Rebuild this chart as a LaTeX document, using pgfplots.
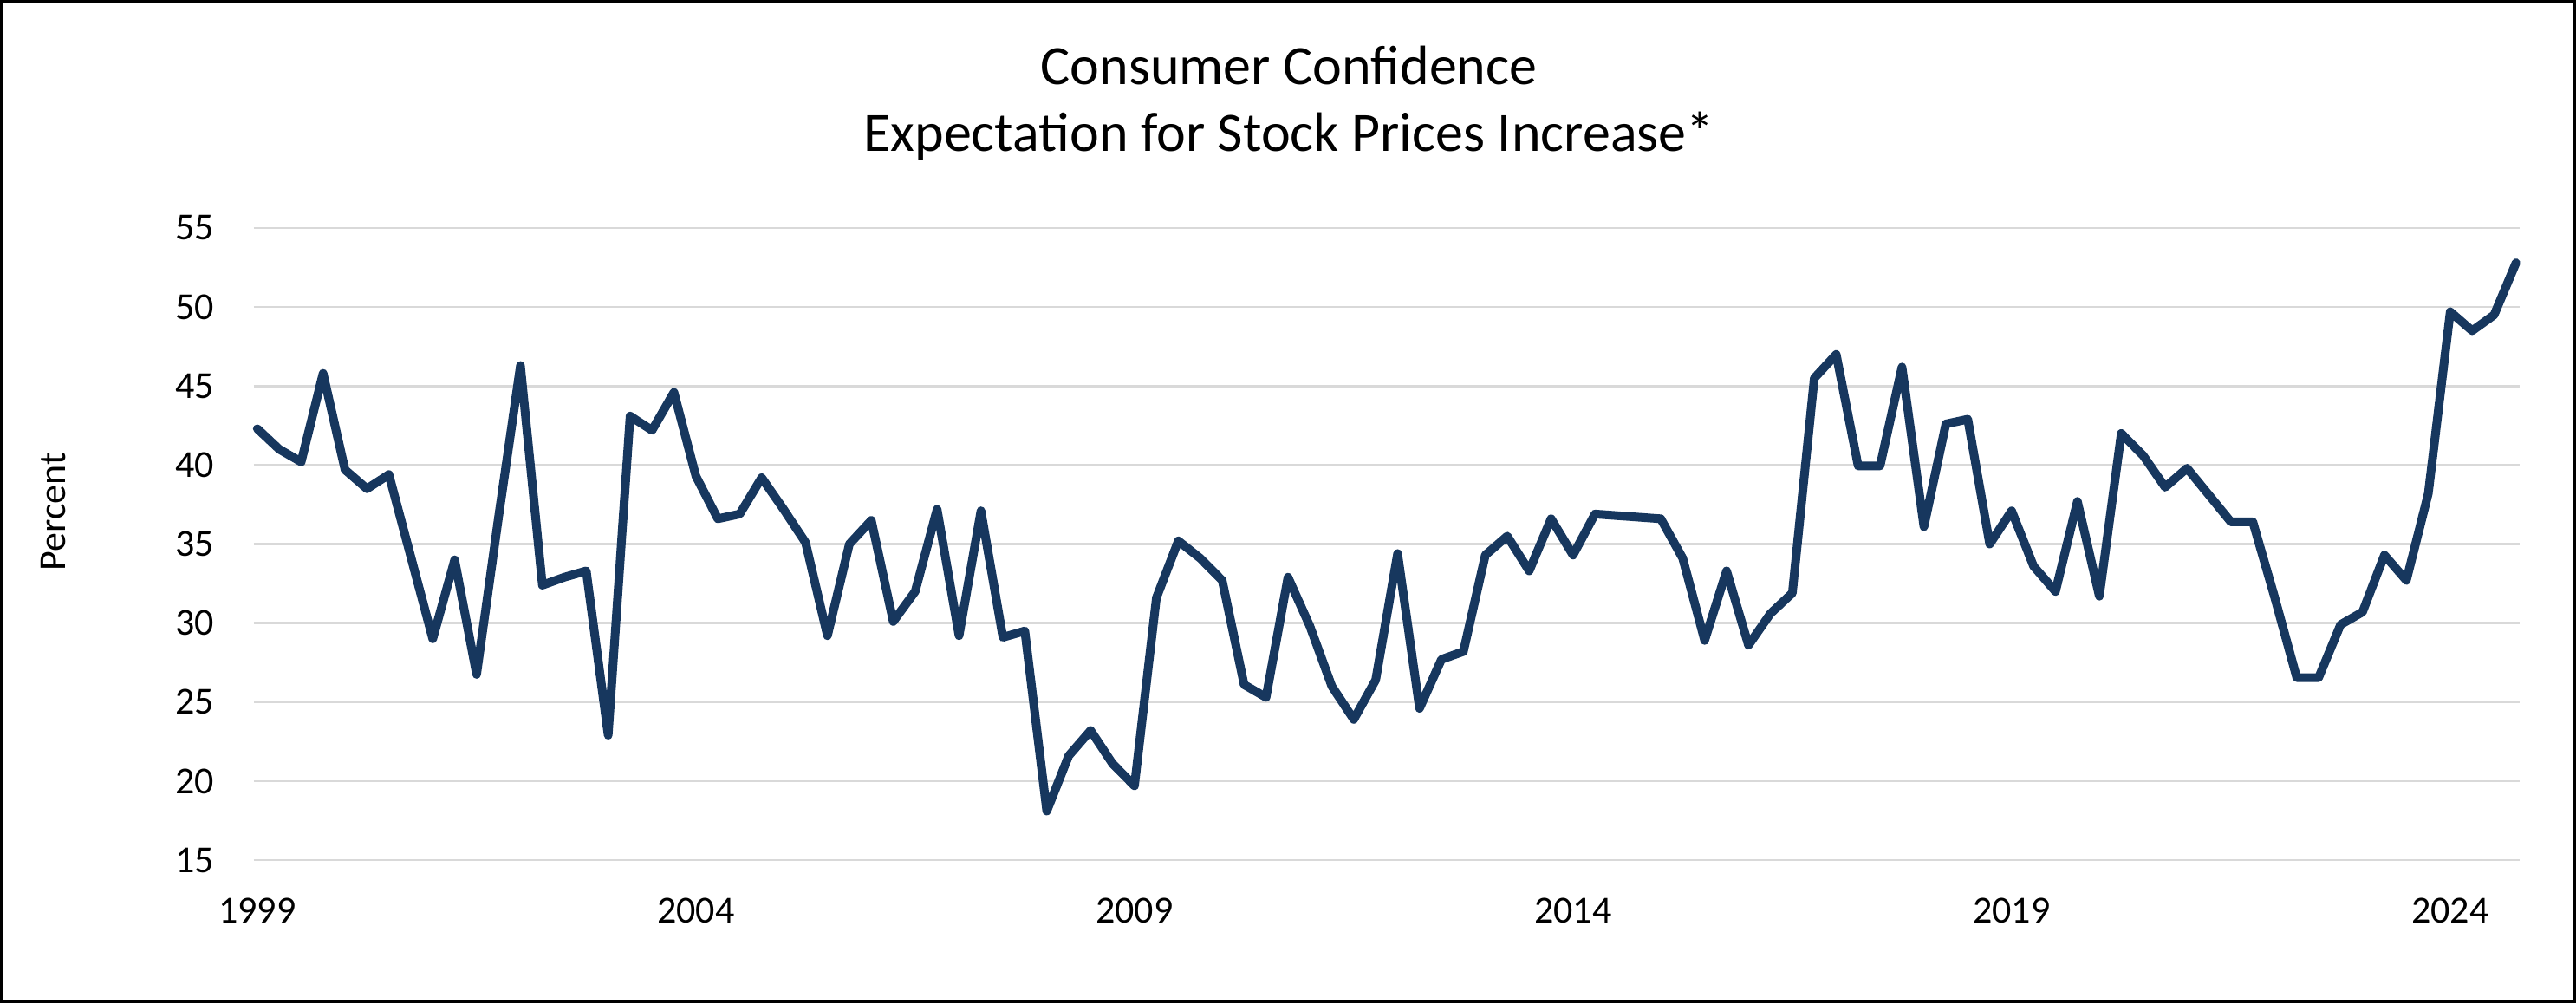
\documentclass[border=0pt]{standalone}
\usepackage{fontspec}
\setmainfont{Carlito}
\usepackage{pgfplots}
\usepackage{pgfplotstable}
\pgfplotsset{compat=1.18}
\definecolor{navy}{HTML}{17375E}
\definecolor{gridgray}{HTML}{D9D9D9}
\pgfplotstableread[row sep=\\]{
x y\\
1999.00 42.3\\
1999.25 41.0\\
1999.50 40.2\\
1999.75 45.8\\
2000.00 39.7\\
2000.25 38.5\\
2000.50 39.4\\
2000.75 34.2\\
2001.00 29.0\\
2001.25 34.0\\
2001.50 26.75\\
2001.75 36.7\\
2002.00 46.3\\
2002.25 32.4\\
2002.50 32.9\\
2002.75 33.3\\
2003.00 22.9\\
2003.25 43.1\\
2003.50 42.2\\
2003.75 44.6\\
2004.00 39.3\\
2004.25 36.6\\
2004.50 36.9\\
2004.75 39.2\\
2005.00 37.2\\
2005.25 35.1\\
2005.50 29.2\\
2005.75 35.0\\
2006.00 36.5\\
2006.25 30.1\\
2006.50 32.0\\
2006.75 37.2\\
2007.00 29.2\\
2007.25 37.1\\
2007.50 29.1\\
2007.75 29.5\\
2008.00 18.1\\
2008.25 21.6\\
2008.50 23.2\\
2008.75 21.1\\
2009.00 19.7\\
2009.25 31.6\\
2009.50 35.2\\
2009.75 34.1\\
2010.00 32.7\\
2010.25 26.1\\
2010.50 25.3\\
2010.75 32.9\\
2011.00 29.8\\
2011.25 26.0\\
2011.50 23.9\\
2011.75 26.4\\
2012.00 34.4\\
2012.25 24.6\\
2012.50 27.7\\
2012.75 28.2\\
2013.00 34.3\\
2013.25 35.5\\
2013.50 33.3\\
2013.75 36.6\\
2014.00 34.3\\
2014.25 36.9\\
2014.50 36.8\\
2014.75 36.7\\
2015.00 36.6\\
2015.25 34.1\\
2015.50 28.9\\
2015.75 33.3\\
2016.00 28.6\\
2016.25 30.6\\
2016.50 31.9\\
2016.75 45.5\\
2017.00 47.0\\
2017.25 39.95\\
2017.50 39.95\\
2017.75 46.2\\
2018.00 36.1\\
2018.25 42.6\\
2018.50 42.9\\
2018.75 35.0\\
2019.00 37.1\\
2019.25 33.6\\
2019.50 32.0\\
2019.75 37.7\\
2020.00 31.7\\
2020.25 42.0\\
2020.50 40.6\\
2020.75 38.6\\
2021.00 39.8\\
2021.25 38.1\\
2021.50 36.4\\
2021.75 36.4\\
2022.00 31.6\\
2022.25 26.55\\
2022.50 26.55\\
2022.75 29.9\\
2023.00 30.7\\
2023.25 34.3\\
2023.50 32.7\\
2023.75 38.2\\
2024.00 49.7\\
2024.25 48.5\\
2024.50 49.5\\
2024.75 52.8\\
}\datatable
\begin{document}
\begin{tikzpicture}
\useasboundingbox (0,0) rectangle (743pt,289.25pt);
\draw[line width=1pt] (0.5pt,0.5pt) rectangle (742.5pt,288.75pt);
\node[font=\fontsize{16}{19.25}\selectfont, anchor=base, inner sep=0pt] at (371.75pt,264.75pt) {Consumer Confidence};
\node[font=\fontsize{16}{19.25}\selectfont, anchor=base, inner sep=0pt] at (371.75pt,245.5pt) {Expectation for Stock Prices Increase*};
\node[font=\fontsize{11}{13}\selectfont, rotate=90, inner sep=0pt] at (15.4pt,141.75pt) {Percent};
\begin{axis}[
  at={(73.2pt,41.25pt)}, anchor=south west,
  scale only axis, width=653.5pt, height=182.25pt,
  xmin=1998.96, xmax=2024.79, ymin=15, ymax=55,
  xtick={1999,2004,2009,2014,2019,2024},
  xticklabels={1999,2004,2009,2014,2019,2024},
  ytick={15,20,25,30,35,40,45,50,55},
  ymajorgrids, major grid style={gridgray, line width=0.67pt},
  axis line style={draw=none}, tick style={draw=none}, major tick length=0pt,
  tick label style={font=\fontsize{11}{13}\selectfont, inner sep=0pt},
  yticklabel style={anchor=east, xshift=-11.2pt},
  xticklabel style={anchor=north, yshift=-10.8pt},
  /pgf/number format/assume math mode=true,
  clip=false,
]
\addplot[navy, line width=2.5pt, line join=round, line cap=round] table[x=x, y=y] {\datatable};
\end{axis}
\end{tikzpicture}
\end{document}
